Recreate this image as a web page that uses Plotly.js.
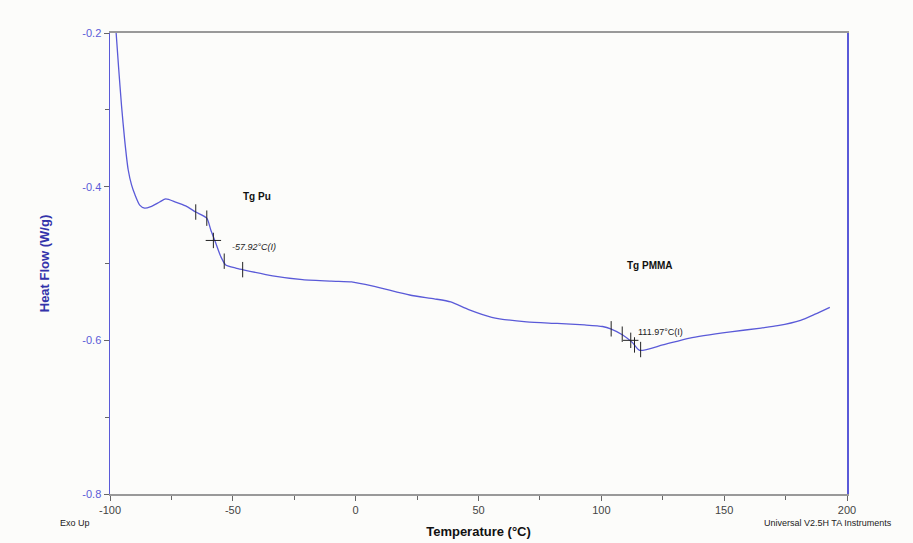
<!DOCTYPE html>
<html><head><meta charset="utf-8">
<script src="https://cdn.plot.ly/plotly-3.0.1.min.js"></script>
<style>html,body{margin:0;padding:0;background:#fcfcfa;}</style>
</head><body>
<div id="chart" style="width:913px;height:543px;"></div>
<script>
// DSC curve (Temperature °C, Heat Flow W/g)
const temperature = [-97.5,-96.5,-95.3,-94.0,-92.6,-91.2,-89.9,-87.9,-85.9,-83.4,-79.8,-77.3,-73.3,-69.2,-65.1,-60.6,-59.0,-57.0,-54.9,-52.9,-48.8,-46.0,-33.8,-21.6,-10,-1.6,0,8,22,32,38.7,46,55.4,69.6,82,93.2,100.5,103.8,108.7,112.7,115.6,125,136,152.6,165,171.8,181.1,187,193];
const heatFlow =    [-0.2,-0.245,-0.295,-0.340,-0.378,-0.398,-0.410,-0.424,-0.428,-0.426,-0.420,-0.416,-0.420,-0.425,-0.433,-0.441,-0.456,-0.473,-0.491,-0.502,-0.506,-0.508,-0.516,-0.521,-0.523,-0.524,-0.525,-0.530,-0.541,-0.546,-0.550,-0.560,-0.570,-0.576,-0.578,-0.580,-0.582,-0.585,-0.593,-0.603,-0.613,-0.606,-0.597,-0.589,-0.584,-0.581,-0.574,-0.566,-0.557];
// Tg analysis markers
const puTickX = [-65.1,-60.6,-53.5,-46.0];
const puTickY = [-0.433,-0.441,-0.497,-0.508];
const puTgX = [-57.92];
const puTgY = [-0.470];
const pmmaTickX = [104.0,108.5,113.5,116.0];
const pmmaTickY = [-0.585,-0.592,-0.606,-0.612];
const pmmaTgX = [111.97];
const pmmaTgY = [-0.600];
// axis ticks (labels use hyphen-minus as in the reference)
const xTicks = [-100,-50,0,50,100,150,200];
const xMinor = [-75,-25,25,75,125,175];
const yTicks = [-0.8,-0.6,-0.4,-0.2];
const yMinor = [-0.7,-0.5,-0.3];

const blue = '#5a5ad8';
const data = [
  {x: temperature, y: heatFlow, type:'scatter', mode:'lines', line:{color:blue, width:1.3, shape:'spline', smoothing:0.6}, hoverinfo:'none'},
  {x: puTickX.concat(pmmaTickX), y: puTickY.concat(pmmaTickY), type:'scatter', mode:'markers',
   marker:{symbol:'line-ns-open', size:11, color:'#222', line:{color:'#222', width:1}}, hoverinfo:'none'},
  {x: puTgX.concat(pmmaTgX), y: puTgY.concat(pmmaTgY), type:'scatter', mode:'markers',
   marker:{symbol:'cross-thin-open', size:11, color:'#222', line:{color:'#222', width:1}}, hoverinfo:'none'}
];
const layout = {
  width:913, height:543,
  margin:{l:110, r:66, t:33, b:49},
  paper_bgcolor:'#fcfcfa', plot_bgcolor:'#fcfcfa',
  showlegend:false,
  font:{family:'Liberation Sans, Arial, sans-serif', size:11, color:'#333'},
  xaxis:{range:[-100,200], tickmode:'array', tickvals:xTicks, ticktext:xTicks.map(String),
    showgrid:false, zeroline:false, showline:true, linecolor:'#999', linewidth:2, mirror:true,
    ticks:'outside', ticklen:5, tickcolor:'#666', tickfont:{color:'#444', size:11},
    minor:{tickmode:'array', tickvals:xMinor, ticks:'outside', ticklen:4, tickcolor:'#666', showgrid:false},
    title:{text:'<b>Temperature (°C)</b>', font:{size:13, color:'#111'}, standoff:12}},
  yaxis:{range:[-0.8,-0.2], tickmode:'array', tickvals:yTicks, ticktext:yTicks.map(v=>v.toFixed(1)),
    showgrid:false, zeroline:false, showline:true, linecolor:blue, linewidth:1.5, mirror:true,
    ticks:'outside', ticklen:5, tickcolor:'#666', tickfont:{color:blue, size:11},
    minor:{tickmode:'array', tickvals:yMinor, ticks:'outside', ticklen:4, tickcolor:'#666', showgrid:false},
    title:{text:'<b>Heat Flow (W/g)</b>', font:{size:13, color:'#3333aa'}, standoff:30}},
  annotations:[
    {x:-40, y:-0.413, xref:'x', yref:'y', text:'<b>Tg Pu</b>', showarrow:false, font:{size:10, color:'#111'}},
    {x:-51, y:-0.478, xref:'x', yref:'y', xanchor:'left', text:'<i>-57.92°C(I)</i>', showarrow:false, font:{size:9, color:'#222'}},
    {x:120, y:-0.503, xref:'x', yref:'y', text:'<b>Tg PMMA</b>', showarrow:false, font:{size:10, color:'#111'}},
    {x:114, y:-0.589, xref:'x', yref:'y', xanchor:'left', text:'111.97°C(I)', showarrow:false, font:{size:9, color:'#222'}},
    {x:0, y:0, xref:'paper', yref:'paper', xanchor:'left', yanchor:'middle', text:'Exo Up', showarrow:false, font:{size:9, color:'#222'}},
    {x:0, y:0, xref:'paper', yref:'paper', xanchor:'left', yanchor:'middle', text:'Universal V2.5H TA Instruments', showarrow:false, font:{size:9, color:'#222'}}
  ]
};
// place footer notes in paper coords
const pw = 913-110-66, ph = 543-33-49;
layout.annotations[4].x = (58-110)/pw; layout.annotations[4].y = (543-49-523)/ph;
layout.annotations[5].x = (762-110)/pw; layout.annotations[5].y = (543-49-523)/ph;
Plotly.newPlot('chart', data, layout, {displayModeBar:false, staticPlot:true});
</script>
</body></html>
